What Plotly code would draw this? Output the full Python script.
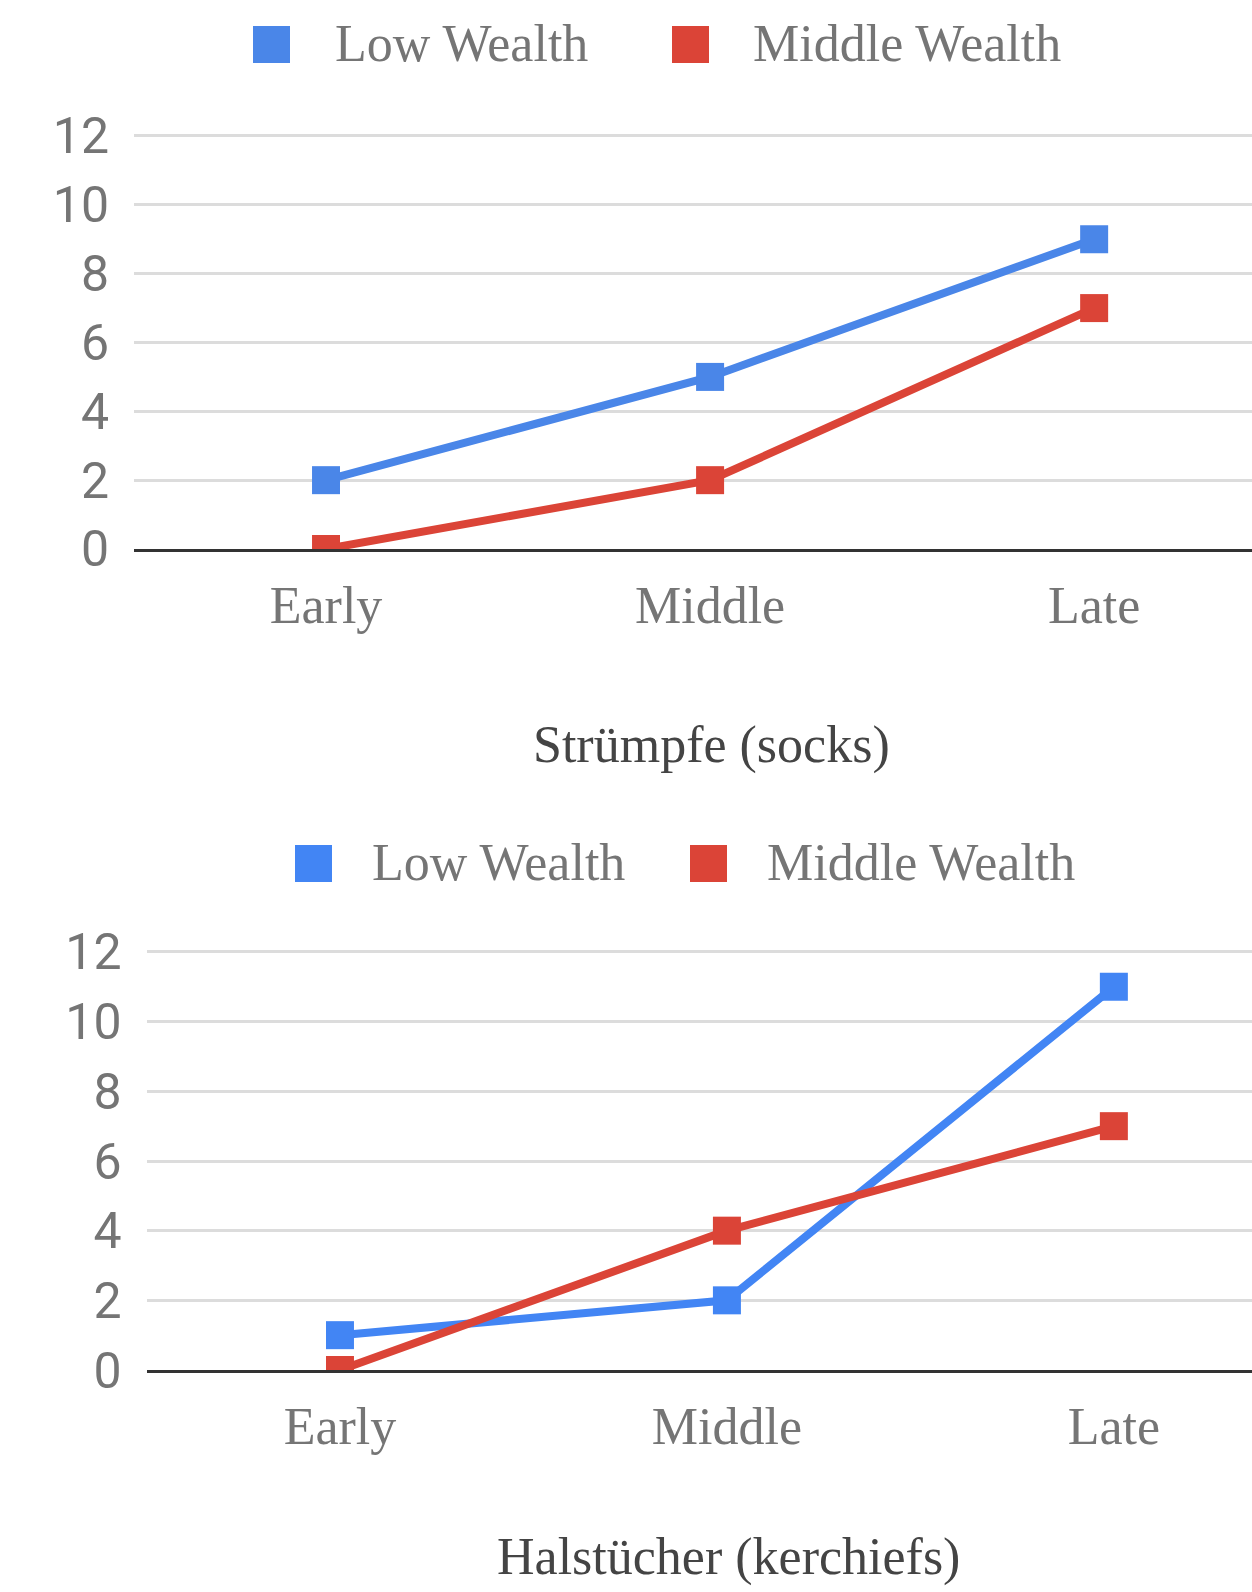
import plotly.graph_objects as go

W, H = 1252, 1592

periods = ["Early", "Middle", "Late"]
series_names = ["Low Wealth", "Middle Wealth"]

socks_low = [2, 5, 9]
socks_middle = [0, 2, 7]
kerchiefs_low = [1, 2, 11]
kerchiefs_middle = [0, 4, 7]

y_ticks = [0, 2, 4, 6, 8, 10, 12]
y_max = 12.03

top_colors = ["#4a86e8", "#db4437"]
bottom_colors = ["#4285f4", "#db4437"]

SERIF = "Liberation Serif, Times New Roman, serif"
SANS = "Roboto, Arial, sans-serif"
LABEL_GREY = "#757575"
TITLE_GREY = "#444444"


def px_x(x):
    return x / W


def px_y(y):
    return 1 - y / H


fig = go.Figure()

panels = [
    ("x", "y", socks_low, socks_middle, top_colors),
    ("x2", "y2", kerchiefs_low, kerchiefs_middle, bottom_colors),
]
for xa, ya, low, mid, colors in panels:
    for name, vals, col in zip(series_names, [low, mid], colors):
        fig.add_trace(go.Scatter(
            x=periods, y=vals, name=name, xaxis=xa, yaxis=ya,
            mode="lines+markers",
            line=dict(color=col, width=8),
            marker=dict(symbol="square", size=28, color=col),
            showlegend=False,
        ))

axis_x_common = dict(
    type="category", categoryorder="array", categoryarray=periods,
    showgrid=False, zeroline=False, showline=True, linecolor="#333333",
    linewidth=3, ticks="", ticklabelstandoff=9, automargin=False,
    tickfont=dict(family=SERIF, size=52, color=LABEL_GREY),
    fixedrange=True,
)
axis_y_common = dict(
    range=[0, y_max], tickvals=y_ticks, showgrid=True, gridcolor="#dcdcdc",
    gridwidth=3, zeroline=False, showline=False, ticks="",
    ticklabelstandoff=24, automargin=False,
    tickfont=dict(family=SANS, size=50, color=LABEL_GREY),
    fixedrange=True,
)

# pixels per y unit in each panel, so that 0 and 12 land on the intended rows
top_unit = (549 - 136) / 12
bot_unit = (1370 - 952) / 12

fig.update_layout(
    width=W, height=H,
    margin=dict(l=0, r=0, t=0, b=0, autoexpand=False),
    paper_bgcolor="white", plot_bgcolor="white",
    showlegend=False,
    xaxis=dict(axis_x_common, domain=[px_x(134), 1], range=[-0.5, 2.411], anchor="y"),
    yaxis=dict(axis_y_common, domain=[px_y(549), px_y(549 - y_max * top_unit)], anchor="x"),
    xaxis2=dict(axis_x_common, domain=[px_x(146.5), 1], range=[-0.5, 2.357], anchor="y2"),
    yaxis2=dict(axis_y_common, domain=[px_y(1370), px_y(1370 - y_max * bot_unit)], anchor="x2"),
)

shapes = []
annotations = []

# legend rows: (square top, square bottom, [(square x0, text x0, color, label)])
legend_rows = [
    (26, 63, [(253, 333, top_colors[0], series_names[0]),
              (672, 751, top_colors[1], series_names[1])]),
    (845, 882, [(295, 370, bottom_colors[0], series_names[0]),
                (690, 765, bottom_colors[1], series_names[1])]),
]
for y0, y1, items in legend_rows:
    for sx, tx, col, label in items:
        shapes.append(dict(
            type="rect", xref="paper", yref="paper",
            x0=px_x(sx), x1=px_x(sx + 37), y0=px_y(y1), y1=px_y(y0),
            fillcolor=col, line=dict(width=0),
        ))
        annotations.append(dict(
            xref="paper", yref="paper", x=px_x(tx), y=px_y((y0 + y1) / 2 - 1),
            xanchor="left", yanchor="middle", showarrow=False, text=label,
            font=dict(family=SERIF, size=52, color=LABEL_GREY),
        ))

# chart titles below each panel
for text, cx, cy in [("Strümpfe (socks)", 711, 745), ("Halstücher (kerchiefs)", 728, 1557)]:
    annotations.append(dict(
        xref="paper", yref="paper", x=px_x(cx), y=px_y(cy),
        xanchor="center", yanchor="middle", showarrow=False, text=text,
        font=dict(family=SERIF, size=52, color=TITLE_GREY),
    ))

fig.update_layout(shapes=shapes, annotations=annotations)

fig.write_html("out.html")
